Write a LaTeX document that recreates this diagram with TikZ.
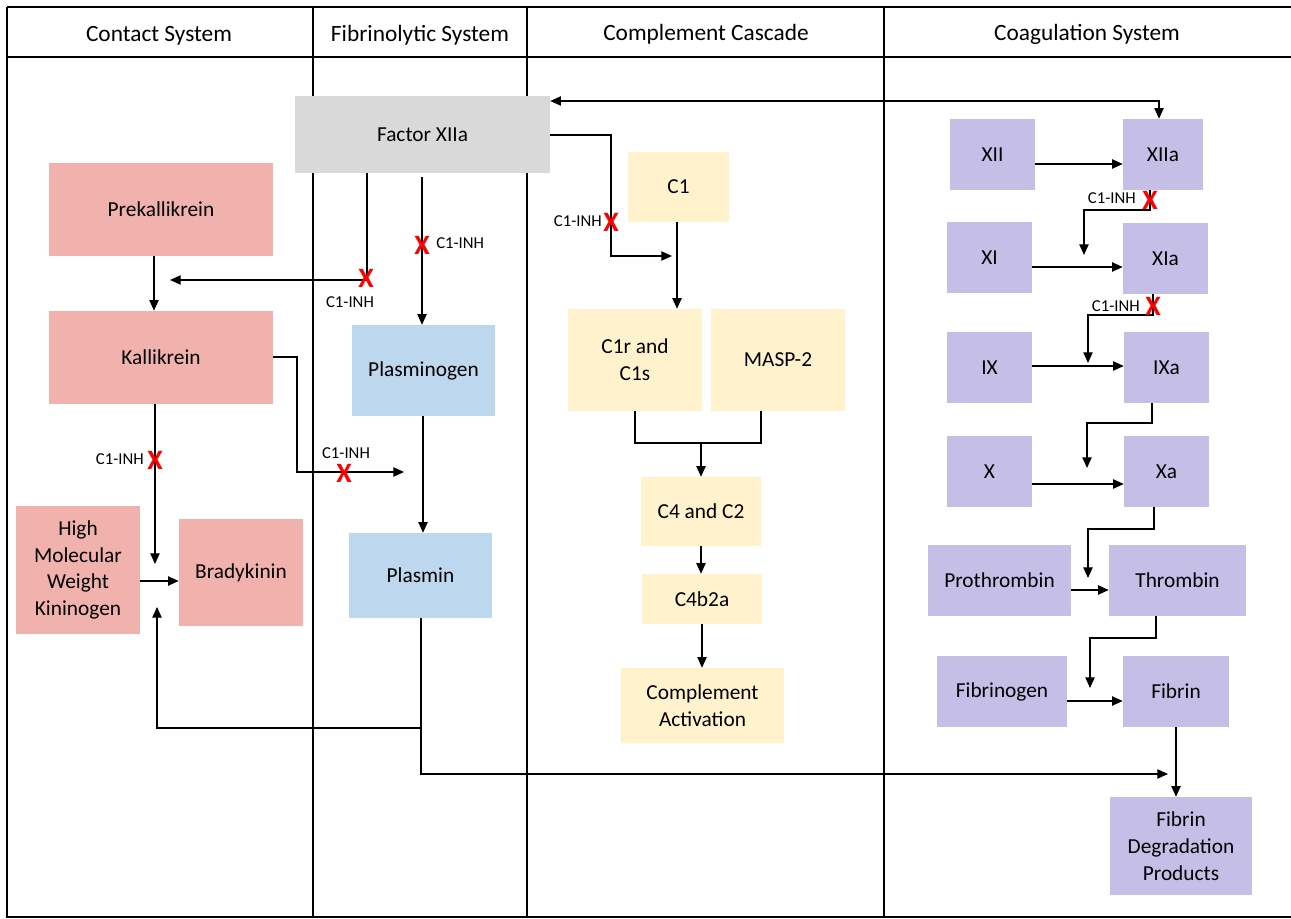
\documentclass[tikz,border=0pt]{standalone}
\usepackage{fontspec}
\setmainfont{Carlito}
\usetikzlibrary{arrows.meta}
\definecolor{cpink}{HTML}{F1B2AE}
\definecolor{cblue}{HTML}{BDD7EE}
\definecolor{cyel}{HTML}{FFF2CC}
\definecolor{cpurp}{HTML}{C5BFE7}
\definecolor{cgray}{HTML}{D9D9D9}
\begin{document}
\begin{tikzpicture}[x=0.75pt,y=-0.75pt,
  sz/.style 2 args={minimum width=#1*0.75pt, minimum height=#2*0.75pt},
  cell/.style={inner sep=0pt, align=center, font=\fontsize{16}{20}\selectfont, text=black},
  pinkbox/.style={cell, fill=cpink},
  bluebox/.style={cell, fill=cblue},
  yelbox/.style={cell, fill=cyel},
  purpbox/.style={cell, fill=cpurp},
  graybox/.style={cell, fill=cgray},
  hdr/.style={inner sep=0pt, font=\fontsize{17.5}{21}\selectfont},
  lbl/.style={inner sep=0pt, font=\fontsize{12.5}{15}\selectfont},
  xm/.style={inner sep=0pt, text=red, font=\fontsize{21}{21}\selectfont\bfseries},
  conn/.style={line width=0.9pt},
  tip/.tip={Triangle[length=8pt,width=7pt]},
  arr/.style={conn, -tip},
  tbl/.style={line width=1.5pt}]
\useasboundingbox (0,0) rectangle (1291,919);
% table
\draw[tbl] (7,7) -- (1291,7);
\draw[tbl] (7,57) -- (1291,57);
\draw[tbl] (7,7) -- (7,917) -- (1291,917);
\draw[tbl] (313,7) -- (313,917);
\draw[tbl] (527,7) -- (527,917);
\draw[tbl] (884,7) -- (884,917);
\node[hdr] (h1) at (159,36) {Contact System};
\node[hdr] (h2) at (420,35) {Fibrinolytic System};
\node[hdr] (h3) at (706,34) {Complement Cascade};
\node[hdr] (h4) at (1087,34) {Coagulation System};
% contact
\node[pinkbox, sz={224}{93}] (Prek) at (161,209.5) {Prekallikrein};
\node[pinkbox, sz={224}{93}] (Kall) at (161,357.5) {Kallikrein};
\node[pinkbox, sz={124}{128}] (HMWK) at (78,570) {High\\Molecular\\Weight\\Kininogen};
\node[pinkbox, sz={124}{107}] (Brady) at (241,572.5) {Bradykinin};
% fibrinolytic
\node[graybox, sz={255}{77}] (FXIIa) at (422.5,134.5) {Factor XIIa};
\node[bluebox, sz={143}{91}] (Plasminogen) at (423.5,370.5) {Plasminogen};
\node[bluebox, sz={143}{85}] (Plasmin) at (420.5,575.5) {Plasmin};
% complement
\node[yelbox, sz={101}{70}] (C1) at (678.5,187) {C1};
\node[yelbox, sz={134}{102}] (C1r) at (635,360) {C1r and\\C1s};
\node[yelbox, sz={134}{102}] (MASP) at (778,360) {MASP-2};
\node[yelbox, sz={120}{69}] (C4C2) at (701,511.5) {C4 and C2};
\node[yelbox, sz={120}{50}] (C4b2a) at (702,599) {C4b2a};
\node[yelbox, sz={163}{75}] (CA) at (702.5,705.5) {Complement\\Activation};
% coagulation
\node[purpbox, sz={85}{71}] (XII) at (992.5,154.5) {XII};
\node[purpbox, sz={80}{71}] (XIIa) at (1163,154.5) {XIIa};
\node[purpbox, sz={85}{71}] (XI) at (989.5,257.5) {XI};
\node[purpbox, sz={85}{71}] (XIa) at (1165.5,258.5) {XIa};
\node[purpbox, sz={85}{71}] (IX) at (989.5,367.5) {IX};
\node[purpbox, sz={85}{71}] (IXa) at (1166.5,367.5) {IXa};
\node[purpbox, sz={85}{71}] (X) at (989.5,471.5) {X};
\node[purpbox, sz={85}{71}] (Xa) at (1166.5,471.5) {Xa};
\node[purpbox, sz={143}{71}] (Proth) at (999.5,580.5) {Prothrombin};
\node[purpbox, sz={137}{71}] (Thromb) at (1177.5,580.5) {Thrombin};
\node[purpbox, sz={130}{71}] (Fibrinogen) at (1002,691.5) {Fibrinogen};
\node[purpbox, sz={106}{71}] (Fibrin) at (1176,691.5) {Fibrin};
\node[purpbox, sz={142}{98}] (FDP) at (1181,846) {Fibrin\\Degradation\\Products};
% connectors: coagulation
\coordinate (t1) at (1159,101);
\draw[conn, tip-tip] (FXIIa.east |- t1) -- (t1) -- (t1 |- XIIa.north);
\draw[arr] (XII.east |- 0,164) -- (XIIa.west |- 0,164);
\coordinate (e1) at (1084,255);
\draw[arr] (XIIa.south -| 1150,0) -- (1150,210) -| (e1);
\draw[arr] (XI.east |- 0,267) -- (XIa.west |- 0,267);
\coordinate (e2) at (1088,363);
\draw[arr] (XIa.south -| 1153,0) -- (1153,315) -| (e2);
\draw[arr] (IX.east |- 0,366) -- (IXa.west |- 0,366);
\coordinate (e3) at (1087,468);
\draw[arr] (IXa.south -| 1152,0) -- (1152,423) -| (e3);
\draw[arr] (X.east |- 0,484) -- (Xa.west |- 0,484);
\coordinate (e4) at (1088,578);
\draw[arr] (Xa.south -| 1154,0) -- (1154,529) -| (e4);
\draw[arr] (Proth.east |- 0,590) -- (Thromb.west |- 0,590);
\coordinate (e5) at (1090,688);
\draw[arr] (Thromb.south -| 1156,0) -- (1156,638) -| (e5);
\draw[arr] (Fibrinogen.east |- 0,701) -- (Fibrin.west |- 0,701);
\draw[arr] (Fibrin.south) -- (FDP.north -| Fibrin.south);
% fibrinolytic
\coordinate (e6) at (1168,774);
\draw[arr] (Plasmin.south -| 421,0) |- (e6);
\coordinate (e7) at (157,607);
\draw[arr] (421,728) -| (e7);
\draw[arr] (Plasminogen.south -| 423,0) -- (Plasmin.north -| 423,0);
\draw[arr, shorten <=3pt] (FXIIa.south -| 422,0) -- (Plasminogen.north -| 422,0);
\coordinate (e8) at (170,280);
\draw[arr] (FXIIa.south -| 367,0) |- (e8);
% contact
\draw[arr] (Prek.south -| 154,0) -- (Kall.north -| 154,0);
\coordinate (e9) at (155,564);
\draw[arr] (Kall.south -| e9) -- (e9);
\coordinate (e10) at (404,472);
\draw[arr] (Kall.east |- 0,357) -| (297,472) -- (e10);
\draw[arr] (HMWK.east |- 0,581) -- (Brady.west |- 0,581);
% complement
\coordinate (e11) at (672,256);
\draw[arr] (FXIIa.east |- 0,135) -| (611,256) -- (e11);
\draw[arr] (C1.south -| 677,0) -- (C1r.north -| 677,0);
\coordinate (j) at (701,443);
\draw[conn] (C1r.south -| 635,0) -- (635,443) -- (761,443) -- (MASP.south -| 761,0);
\draw[arr] (j) -- (C4C2.north -| j);
\draw[arr] (C4C2.south -| 701,0) -- (C4b2a.north -| 701,0);
\draw[arr] (C4b2a.south -| 702,0) -- (CA.north -| 702,0);
% inhibition marks
\node[xm] (x1) at (1150,200) {X};
\node[lbl, anchor=east] (l1) at (1136,198) {C1-INH};
\node[xm] (x2) at (1153,306) {X};
\node[lbl, anchor=east] (l2) at (1140,306) {C1-INH};
\node[xm] (x3) at (611,222) {X};
\node[lbl, anchor=east] (l3) at (602,221) {C1-INH};
\node[xm] (x4) at (366,278) {X};
\node[lbl] (l4) at (350,302) {C1-INH};
\node[xm] (x5) at (422,245) {X};
\node[lbl, anchor=west] (l5) at (436,243) {C1-INH};
\node[xm] (x6) at (155,460) {X};
\node[lbl, anchor=east] (l6) at (144,459) {C1-INH};
\node[xm] (x7) at (344,473) {X};
\node[lbl] (l7) at (346,453) {C1-INH};
\end{tikzpicture}
\end{document}
